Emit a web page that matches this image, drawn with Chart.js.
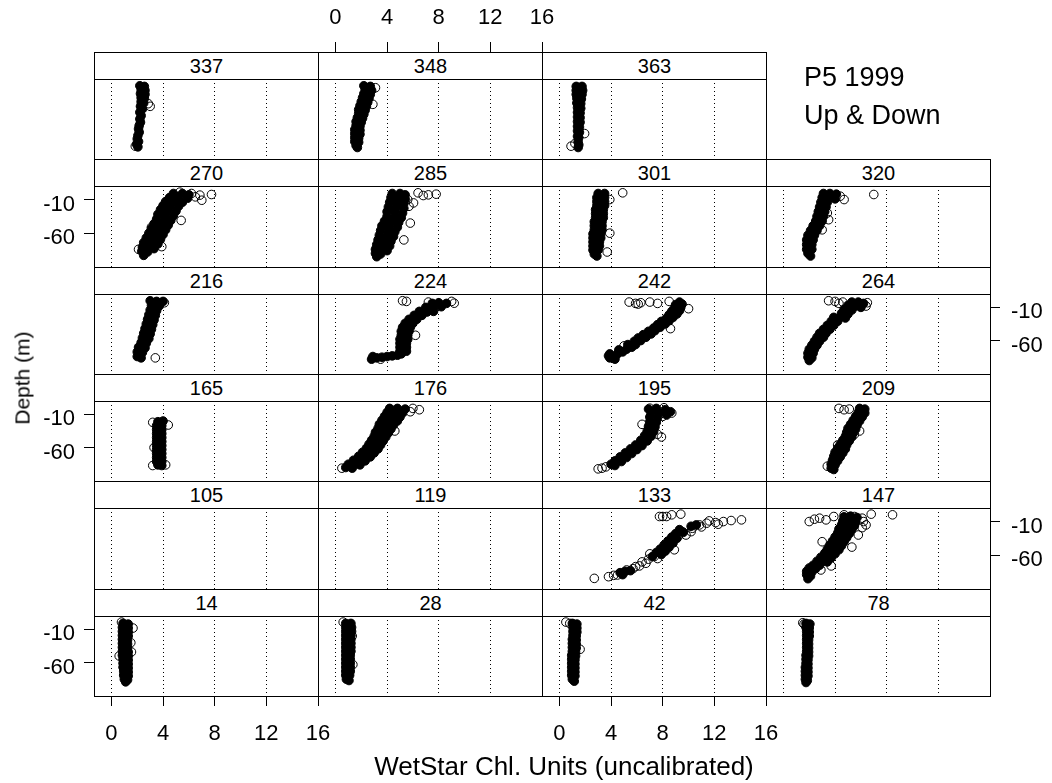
<!DOCTYPE html>
<html>
<head>
<meta charset="utf-8">
<script src="https://cdn.jsdelivr.net/npm/chart.js@4.4.1/dist/chart.umd.min.js"></script>
<style>
  body { margin: 0; background: #fff; }
  #wrap { position: relative; width: 1052px; height: 783px; overflow: hidden; background: #fff;
          font-family: "Liberation Sans", Arial, Helvetica, sans-serif; color: #000; }
  .frame { position: absolute; box-sizing: border-box; border: 1px solid #000; z-index: 1; }
  .strip { position: absolute; box-sizing: border-box; border: 1px solid #000; background: #fff; z-index: 3;
           font-size: 20px; display: flex; align-items: center; justify-content: center; }
  canvas { position: absolute; z-index: 2; }
  .label { position: absolute; white-space: nowrap; z-index: 4; }
</style>
</head>
<body>
<div id="wrap"></div>
<script>
// ---- data (chl units, depth m) ----
const xTicks = [0, 4, 8, 12, 16];
const yTicks = [-10, -60];
const panelIds = [
  ['337', '348', '363', null],
  ['270', '285', '301', '320'],
  ['216', '224', '242', '264'],
  ['165', '176', '195', '209'],
  ['105', '119', '133', '147'],
  ['14', '28', '42', '78']
];

const d337 = [[2.2,0],[2.55,-1],[2.3,-6],[2.6,-7],[2.25,-12],[2.6,-13],[2.3,-18],[2.55,-19],[2.3,-24],[2.5,-26],[2.25,-31],[2.4,-35],[2.2,-40],[2.3,-45],[2.2,-50],[2.25,-55],[2.15,-60],[2.1,-65],[2.15,-70],[2.05,-75],[2.0,-80],[2.1,-84],[1.95,-88],[2.05,-92]];
const o337 = [[3.0,-31],[2.85,-27],[1.85,-91]];
const d348 = [[2.2,0],[2.7,-1],[2.3,-6],[2.8,-7],[2.2,-12],[2.7,-13],[2.1,-18],[2.6,-19],[2.0,-24],[2.5,-25],[1.9,-30],[2.4,-31],[1.8,-36],[2.3,-37],[1.8,-42],[2.2,-43],[1.7,-48],[2.1,-49],[1.6,-54],[2.0,-55],[1.6,-60],[1.9,-61],[1.5,-66],[1.9,-67],[1.5,-72],[1.9,-73],[1.5,-78],[1.8,-79],[1.5,-84],[1.8,-85],[1.6,-90],[1.7,-93]];
const o348 = [[3.1,-3],[2.9,-28]];
const d363 = [[1.3,-1],[1.75,-1],[1.3,-7],[1.8,-7],[1.3,-13],[1.75,-13],[1.35,-19],[1.7,-20],[1.35,-26],[1.65,-27],[1.4,-33],[1.65,-34],[1.4,-40],[1.6,-41],[1.4,-47],[1.6,-48],[1.4,-54],[1.6,-55],[1.4,-61],[1.55,-62],[1.4,-68],[1.55,-70],[1.4,-76],[1.5,-78],[1.45,-84],[1.5,-89],[1.45,-93]];
const o363 = [[0.9,-91],[1.95,-72],[1.2,-87]];

const d270 = [[4.8,-1],[5.5,-1],[6.0,-3],[4.5,-7],[5.2,-6],[5.9,-8],[4.2,-13],[4.9,-12],[5.5,-14],[4.0,-19],[4.6,-18],[5.2,-20],[3.8,-25],[4.4,-25],[5.0,-27],[3.6,-32],[4.2,-32],[4.8,-34],[3.5,-39],[4.1,-39],[4.6,-41],[3.3,-46],[3.9,-46],[4.4,-48],[3.1,-53],[3.7,-53],[4.2,-55],[2.9,-60],[3.5,-60],[4.0,-62],[2.7,-67],[3.3,-67],[3.8,-69],[2.5,-74],[3.1,-74],[3.6,-76],[2.4,-81],[2.9,-81],[3.3,-83],[2.35,-87],[2.8,-88],[2.5,-93]];
const o270 = [[6.2,-1],[6.85,-3.4],[7.0,-11],[7.75,-2.5],[5.3,1],[6.5,-6],[5.4,-41],[3.1,-51],[4.5,-8.5],[3.9,-80],[2.1,-84]];
const d285 = [[4.4,-1],[5.0,-1],[5.4,-3],[4.3,-7],[4.9,-7],[5.4,-9],[4.2,-14],[4.8,-14],[5.3,-16],[4.1,-21],[4.7,-21],[5.3,-23],[4.0,-28],[4.6,-28],[5.2,-30],[4.0,-35],[4.6,-35],[5.1,-37],[3.8,-42],[4.4,-42],[4.9,-44],[3.6,-49],[4.2,-49],[4.8,-51],[3.5,-56],[4.1,-56],[4.6,-58],[3.4,-63],[4.0,-63],[4.5,-65],[3.3,-70],[3.9,-70],[4.3,-72],[3.2,-77],[3.8,-77],[4.2,-79],[3.1,-84],[3.6,-84],[4.0,-86],[3.1,-90],[3.5,-91],[3.2,-95]];
const o285 = [[6.4,0],[7.2,-3],[7.8,-2],[6.8,-4],[6.05,-15],[5.6,-10],[5.7,-20],[5.8,-45],[5.3,-70]];
const d301 = [[3.0,-1],[3.5,-1],[2.9,-7],[3.5,-7],[2.9,-13],[3.5,-13],[2.9,-19],[3.5,-19],[2.8,-25],[3.4,-25],[2.8,-31],[3.4,-31],[2.8,-37],[3.4,-37],[2.7,-43],[3.3,-43],[2.7,-49],[3.3,-49],[2.7,-55],[3.3,-55],[2.6,-61],[3.2,-61],[2.6,-67],[3.2,-67],[2.6,-73],[3.1,-73],[2.6,-79],[3.1,-79],[2.6,-85],[3.0,-85],[2.7,-91],[2.9,-94]];
const o301 = [[4.9,0],[3.9,-10],[3.9,-60],[3.7,-88]];
const d320 = [[3.1,-1],[3.6,-1],[4.1,-2],[3.0,-7],[3.5,-7],[4.0,-9],[2.9,-14],[3.4,-14],[2.8,-21],[3.3,-21],[2.7,-28],[3.2,-28],[2.6,-35],[3.1,-35],[2.5,-42],[3.0,-42],[2.3,-49],[2.8,-49],[2.1,-56],[2.6,-56],[1.9,-63],[2.4,-63],[1.8,-70],[2.3,-70],[1.8,-77],[2.2,-77],[1.8,-84],[2.2,-84],[1.9,-90],[2.1,-94]];
const o320 = [[4.7,-10],[7.0,-2.5],[4.4,-5],[3.5,-40],[3.4,-30],[3.0,-55]];

const d216 = [[3.0,0],[3.5,-1],[4.0,-1],[3.1,-7],[3.7,-8],[3.0,-14],[3.5,-15],[2.9,-21],[3.4,-22],[2.8,-28],[3.3,-29],[2.7,-35],[3.2,-36],[2.6,-42],[3.1,-43],[2.5,-49],[3.0,-50],[2.4,-56],[2.9,-57],[2.3,-63],[2.7,-64],[2.1,-70],[2.6,-71],[2.0,-77],[2.4,-78],[2.0,-84],[2.3,-86]];
const o216 = [[3.4,-86],[4.1,-3]];
const d224 = [[2.8,-88],[3.2,-86],[3.6,-85],[4.0,-84],[4.4,-83],[4.8,-82],[5.1,-80],[2.9,-84],[5.0,-76],[5.5,-76],[5.0,-70],[5.5,-70],[5.0,-64],[5.5,-64],[5.0,-58],[5.6,-58],[5.1,-52],[5.6,-52],[5.1,-46],[5.7,-46],[5.2,-40],[5.8,-40],[5.4,-34],[6.0,-34],[5.7,-28],[6.3,-28],[6.1,-22],[6.7,-22],[6.5,-16],[7.1,-17],[7.6,-16],[7.0,-10],[7.6,-10],[8.2,-9],[7.5,-4],[8.0,-3],[8.6,-4]];
const o224 = [[5.2,0],[5.5,-1],[9.2,-3.7],[9.0,-1],[6.2,-52],[6.5,-20],[7.2,-2],[3.5,-88]];
const d242 = [[3.9,-86],[4.3,-88],[3.8,-83],[4.3,-84],[3.9,-80],[4.5,-80],[4.9,-77],[4.6,-74],[5.2,-73],[5.6,-70],[5.3,-66],[5.9,-66],[5.8,-61],[6.3,-60],[6.1,-56],[6.7,-55],[6.5,-51],[7.1,-50],[6.9,-46],[7.4,-45],[7.3,-41],[7.8,-40],[7.6,-36],[8.2,-35],[7.9,-31],[8.5,-30],[8.3,-26],[8.8,-25],[8.5,-21],[9.1,-20],[8.7,-16],[9.3,-15],[8.9,-11],[9.4,-10],[9.0,-6],[9.5,-5],[9.3,-2]];
const o242 = [[5.4,-2],[5.9,-4],[6.3,-3],[7.0,-2],[7.6,-4],[8.5,-1],[6.1,-5],[10.0,-12],[8.6,-42],[5.0,-68]];
const d264 = [[5.3,-2],[5.8,-2],[6.2,-4],[5.0,-7],[5.6,-8],[6.0,-10],[4.7,-13],[5.3,-14],[4.5,-19],[5.0,-20],[3.9,-25],[4.4,-25],[4.8,-26],[3.7,-31],[4.2,-31],[3.4,-37],[3.9,-37],[3.1,-43],[3.6,-43],[2.8,-49],[3.3,-49],[2.6,-55],[3.1,-55],[2.4,-61],[2.8,-61],[2.2,-67],[2.6,-67],[2.0,-73],[2.4,-73],[1.9,-79],[2.3,-79],[1.9,-85],[2.2,-86],[2.0,-90]];
const o264 = [[3.5,0],[4.0,-1],[4.3,-4],[4.6,-2],[6.5,-3],[6.4,-8],[2.9,-56]];

const d165 = [[3.6,-21],[4.0,-20],[3.5,-27],[3.9,-27],[3.5,-33],[3.9,-33],[3.5,-39],[3.9,-39],[3.5,-45],[3.9,-45],[3.5,-51],[3.9,-51],[3.5,-57],[3.9,-57],[3.5,-63],[3.9,-63],[3.5,-69],[3.9,-69],[3.5,-75],[3.9,-75],[3.5,-81],[3.9,-81],[3.6,-86],[3.9,-87]];
const o165 = [[4.4,-26],[3.2,-22],[4.2,-86],[3.2,-87],[3.3,-60]];
const d176 = [[4.2,-1],[4.8,-1],[5.4,-2],[4.0,-7],[4.6,-7],[5.2,-8],[3.8,-13],[4.4,-13],[5.0,-14],[3.6,-19],[4.2,-19],[4.8,-20],[3.4,-25],[4.0,-25],[4.5,-26],[3.3,-31],[3.8,-31],[4.3,-32],[3.1,-37],[3.7,-37],[4.1,-38],[3.0,-43],[3.5,-43],[3.9,-44],[2.8,-49],[3.3,-49],[3.7,-50],[2.6,-55],[3.1,-55],[3.5,-56],[2.4,-61],[2.9,-61],[3.3,-62],[2.1,-67],[2.6,-67],[3.0,-68],[1.8,-73],[2.3,-73],[2.7,-74],[1.4,-79],[1.9,-79],[2.3,-80],[1.0,-85],[1.5,-85],[1.9,-86],[0.8,-90],[1.3,-91]];
const o176 = [[6.0,-1],[6.5,-3],[5.8,-6],[0.5,-91],[4.6,-35]];
const d195 = [[6.9,-2],[7.5,-1],[8.2,-3],[8.6,-6],[7.1,-8],[7.7,-8],[8.3,-11],[7.0,-14],[7.6,-15],[7.0,-21],[7.5,-22],[6.9,-28],[7.4,-29],[6.8,-35],[7.3,-36],[6.6,-42],[7.1,-43],[6.3,-49],[6.8,-50],[5.9,-56],[6.4,-57],[5.5,-62],[6.0,-63],[5.1,-68],[5.6,-69],[4.7,-74],[5.2,-75],[4.3,-80],[4.8,-81],[4.0,-85],[4.3,-87]];
const o195 = [[7.0,-0.7],[8.1,0],[8.7,-8],[7.6,-40],[7.9,-44],[3.0,-92],[3.6,-89],[3.3,-91],[6.4,-25],[8.0,-13]];
const d209 = [[5.9,-1],[6.3,-2],[5.8,-7],[6.3,-8],[5.6,-13],[6.1,-14],[5.4,-19],[5.9,-20],[5.2,-25],[5.7,-26],[5.0,-31],[5.6,-32],[4.9,-37],[5.4,-38],[4.8,-43],[5.3,-44],[4.6,-49],[5.1,-50],[4.4,-55],[4.9,-56],[4.2,-61],[4.8,-62],[4.0,-67],[4.6,-68],[3.9,-73],[4.4,-74],[3.8,-79],[4.2,-80],[3.7,-85],[4.0,-86],[3.7,-91],[3.9,-93]];
const o209 = [[4.3,-1],[4.7,-3],[5.1,-2],[5.5,-40],[5.9,-35],[4.2,-56],[3.4,-88]];

const d105 = [];
const o105 = [];
const d119 = [];
const o119 = [];
const d133 = [[9.3,-22],[9.6,-26],[9.0,-28],[8.7,-33],[9.1,-35],[8.4,-39],[8.8,-42],[8.1,-45],[8.5,-48],[7.8,-51],[8.2,-54],[7.5,-56],[7.9,-59],[7.2,-62],[4.7,-86],[5.1,-84],[4.9,-89],[5.5,-83],[10.2,-17],[10.6,-15]];
const o133 = [[7.75,-2.5],[8.0,-2.5],[8.3,-2.5],[8.7,0],[9.4,1],[14.1,-7.5],[13.3,-8.5],[12.7,-10],[12.1,-11.5],[11.4,-12.5],[10.85,-15],[11.6,-9],[10.3,-20],[9.5,-25],[9.2,-32],[8.5,-42],[7.9,-52],[7.35,-62],[6.7,-72],[5.9,-77],[5.2,-82],[4.5,-89.5],[2.7,-94.5],[3.8,-92],[6.9,-66],[6.4,-70],[7.6,-65],[6.2,-76],[9.8,-30],[10.2,-25],[8.9,-52],[12.3,-14],[11.0,-18],[7.0,-58],[5.7,-80],[4.2,-90]];
const d147 = [[4.7,-3],[5.2,-2],[5.7,-4],[4.6,-9],[5.1,-9],[5.6,-10],[4.5,-15],[5.0,-15],[5.5,-16],[4.3,-21],[4.8,-21],[5.3,-22],[4.2,-27],[4.7,-27],[5.1,-28],[4.0,-33],[4.5,-33],[4.9,-34],[3.8,-39],[4.3,-39],[4.7,-40],[3.6,-45],[4.1,-45],[4.5,-46],[3.4,-51],[3.9,-51],[4.3,-52],[3.2,-57],[3.7,-57],[4.0,-58],[2.9,-63],[3.4,-63],[3.7,-64],[2.6,-69],[3.1,-69],[3.4,-70],[2.3,-75],[2.8,-75],[2.0,-79],[2.5,-80],[1.8,-84],[2.2,-85],[1.8,-89],[2.1,-91],[1.9,-95]];
const o147 = [[2.0,-10],[2.4,-6.5],[2.8,-5],[3.3,-7.5],[3.9,-2.5],[4.7,0],[5.5,-2.5],[6.1,-5],[6.8,1],[8.45,0],[6.1,-19],[6.4,-15],[6.2,-10],[5.8,-30],[3.0,-40],[5.3,-48],[3.7,-76],[2.9,-82]];

const d14 = [[0.9,-1],[1.3,-2],[0.85,-7],[1.3,-8],[0.85,-13],[1.3,-14],[0.85,-19],[1.3,-20],[0.85,-25],[1.25,-26],[0.85,-31],[1.25,-32],[0.85,-37],[1.25,-38],[0.85,-43],[1.3,-44],[0.85,-49],[1.3,-50],[0.9,-55],[1.3,-56],[0.9,-61],[1.3,-62],[0.9,-67],[1.3,-68],[0.95,-73],[1.3,-74],[0.95,-79],[1.3,-80],[1.0,-85],[1.25,-86],[1.1,-89]];
const o14 = [[0.78,1],[1.67,-8],[1.55,-44],[1.5,-30],[0.6,-50]];
const d28 = [[0.8,-1],[1.2,-1],[0.8,-7],[1.25,-7],[0.8,-13],[1.25,-13],[0.8,-19],[1.2,-19],[0.8,-25],[1.2,-25],[0.8,-31],[1.2,-31],[0.8,-37],[1.2,-37],[0.8,-43],[1.2,-43],[0.8,-49],[1.15,-49],[0.8,-55],[1.15,-55],[0.8,-61],[1.15,-61],[0.8,-67],[1.15,-67],[0.8,-73],[1.15,-73],[0.8,-79],[1.1,-79],[0.85,-85],[1.05,-87]];
const o28 = [[0.6,1],[1.35,-63],[1.3,-20]];
const d42 = [[1.0,-1],[1.35,-2],[1.05,-7],[1.35,-8],[1.05,-13],[1.35,-14],[1.05,-19],[1.3,-20],[1.0,-25],[1.3,-26],[1.0,-31],[1.3,-32],[1.0,-37],[1.3,-38],[1.0,-43],[1.25,-44],[0.95,-49],[1.25,-50],[0.95,-55],[1.2,-56],[0.95,-61],[1.2,-62],[0.95,-67],[1.2,-68],[0.95,-73],[1.2,-74],[0.95,-79],[1.2,-80],[1.0,-85],[1.15,-88]];
const o42 = [[0.5,1],[0.8,-1],[1.6,-40]];
const d78 = [[1.75,-1],[2.05,-2],[1.75,-7],[2.0,-8],[1.8,-13],[2.0,-14],[1.8,-19],[2.0,-20],[1.8,-25],[1.95,-26],[1.8,-31],[1.95,-32],[1.8,-37],[1.95,-38],[1.8,-43],[1.95,-44],[1.75,-49],[1.95,-50],[1.75,-55],[1.9,-56],[1.75,-61],[1.9,-62],[1.7,-67],[1.9,-68],[1.7,-73],[1.9,-74],[1.7,-79],[1.9,-80],[1.7,-85],[1.85,-87],[1.75,-90]];
const o78 = [[1.5,0],[1.6,-2]];

const panelPoints = {
  '337': [d337, o337], '348': [d348, o348], '363': [d363, o363],
  '270': [d270, o270], '285': [d285, o285], '301': [d301, o301], '320': [d320, o320],
  '216': [d216, o216], '224': [d224, o224], '242': [d242, o242], '264': [d264, o264],
  '165': [d165, o165], '176': [d176, o176], '195': [d195, o195], '209': [d209, o209],
  '105': [d105, o105], '119': [d119, o119], '133': [d133, o133], '147': [d147, o147],
  '14': [d14, o14], '28': [d28, o28], '42': [d42, o42], '78': [d78, o78]
};

// which panels carry the alternating axes
const leftAxis = ['270', '165', '14'];
const rightAxis = ['264', '147'];
const bottomAxis = ['14', '42'];
const topAxis = ['348'];

// ---- layout ----
const colX = [94, 318, 542, 766, 990];
const stripTop = [52, 159, 267, 374, 481, 589, 696];
const STRIP = 27;
const PAD = 90;      // canvas margin around each panel
const AXW = 70;      // room kept for a y axis
const AXH = 80;      // room kept for an x axis
const FONT = '"Liberation Sans", Arial, Helvetica, sans-serif';
const wrap = document.getElementById('wrap');

function addDiv(cls, left, top, w, h) {
  const d = document.createElement('div');
  d.className = cls;
  d.style.left = left + 'px';
  d.style.top = top + 'px';
  d.style.width = w + 'px';
  d.style.height = h + 'px';
  wrap.appendChild(d);
  return d;
}

function toXY(arr) {
  return arr.map(p => ({ x: p[0], y: p[1] }));
}

function makePanel(id, r, c) {
  const left = colX[c], w = colX[c + 1] - colX[c];
  const top = stripTop[r] + STRIP, h = stripTop[r + 1] - top;

  addDiv('frame', left, top, w + 1, h + 1);
  const strip = addDiv('strip', left, stripTop[r], w + 1, STRIP + 1);
  strip.textContent = id;

  const canvas = document.createElement('canvas');
  canvas.width = w + 2 * PAD;
  canvas.height = h + 2 * PAD;
  canvas.style.left = (left - PAD) + 'px';
  canvas.style.top = (top - PAD) + 'px';
  canvas.style.width = canvas.width + 'px';
  canvas.style.height = canvas.height + 'px';
  wrap.appendChild(canvas);

  const isTop = topAxis.includes(id);
  const hasX = isTop || bottomAxis.includes(id);
  const isRight = rightAxis.includes(id);
  const hasY = isRight || leftAxis.includes(id);
  const tickFont = { family: FONT, size: 22 };
  const [dense, open] = panelPoints[id];

  new Chart(canvas, {
    type: 'scatter',
    data: {
      datasets: [
        { data: toXY(dense), pointRadius: 4.3, pointBorderWidth: 1,
          pointBorderColor: '#000', pointBackgroundColor: '#000' },
        { data: toXY(open), pointRadius: 4.3, pointBorderWidth: 1,
          pointBorderColor: '#000', pointBackgroundColor: 'rgba(0,0,0,0)' }
      ]
    },
    options: {
      responsive: false,
      maintainAspectRatio: false,
      animation: false,
      devicePixelRatio: 1,
      events: [],
      layout: {
        padding: {
          left: isRight ? PAD : PAD - AXW,
          right: isRight ? PAD - AXW : PAD,
          top: isTop ? PAD - AXH : PAD,
          bottom: isTop ? PAD : PAD - AXH
        }
      },
      plugins: { legend: { display: false }, tooltip: { enabled: false } },
      scales: {
        x: {
          type: 'linear',
          position: isTop ? 'top' : 'bottom',
          min: -1.35,
          max: 16,
          afterBuildTicks: s => { s.ticks = xTicks.map(v => ({ value: v })); },
          afterFit: s => { s.height = AXH; },
          grid: { display: true, drawOnChartArea: true, drawTicks: hasX,
                  tickLength: isTop ? 37 : 10, color: '#000', tickColor: '#000', lineWidth: 1 },
          border: { display: false, dash: [1, 3] },
          ticks: { display: hasX, color: '#000', font: tickFont, padding: isTop ? 11 : 15,
                   maxRotation: 0, autoSkip: false }
        },
        y: {
          type: 'linear',
          position: isRight ? 'right' : 'left',
          min: -110.3,
          max: 10.15,
          afterBuildTicks: s => { s.ticks = yTicks.map(v => ({ value: v })); },
          afterFit: s => { s.width = AXW; },
          grid: { display: hasY, drawOnChartArea: false, drawTicks: true, tickLength: 10,
                  color: '#000', tickColor: '#000' },
          border: { display: false },
          ticks: { display: hasY, color: '#000', font: tickFont, padding: isRight ? 11 : 9,
                   labelOffset: 5, autoSkip: false }
        }
      }
    }
  });
}

panelIds.forEach((row, r) => {
  row.forEach((id, c) => {
    if (id) makePanel(id, r, c);
  });
});

// texts
const t1 = document.createElement('div');
t1.className = 'label';
t1.style.left = '804px';
t1.style.top = '58px';
t1.style.fontSize = '27px';
t1.style.lineHeight = '38px';
t1.innerHTML = 'P5 1999<br>Up &amp; Down';
wrap.appendChild(t1);

const xt = document.createElement('div');
xt.className = 'label';
xt.style.left = '564px';
xt.style.top = '753px';
xt.style.fontSize = '26px';
xt.style.lineHeight = '26px';
xt.style.transform = 'translateX(-50%)';
xt.textContent = 'WetStar Chl. Units (uncalibrated)';
wrap.appendChild(xt);

const yt = document.createElement('div');
yt.className = 'label';
yt.style.left = '22px';
yt.style.top = '378px';
yt.style.fontSize = '21px';
yt.style.lineHeight = '21px';
yt.style.transform = 'translate(-50%, -50%) rotate(-90deg)';
yt.textContent = 'Depth (m)';
wrap.appendChild(yt);
</script>
</body>
</html>
